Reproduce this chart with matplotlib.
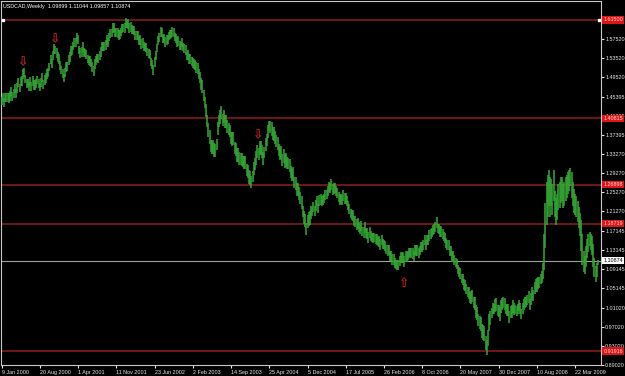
import numpy as np
import matplotlib
matplotlib.use("Agg")
import matplotlib.pyplot as plt

# ---------------- data ----------------
symbol = "USDCAD,Weekly"
last_open, last_high, last_low, last_close = 1.09899, 1.11044, 1.09857, 1.10874

# weekly highs / lows (price x 1000), 9 Jan 2000 onwards
highs_k = [
    1454,1462,1450,1462,1462,1461,1461,1466,1475,1464,
    1469,1480,1470,1482,1494,1481,1496,1498,1513,1514,
    1499,1492,1492,1485,1496,1484,1497,1488,1488,1492,
    1497,1492,1483,1494,1504,1489,1499,1503,1513,1514,
    1524,1542,1532,1550,1564,1561,1556,1548,1543,1529,
    1519,1512,1502,1515,1526,1526,1541,1548,1561,1561,
    1569,1577,1577,1588,1584,1561,1556,1558,1568,1557,
    1554,1552,1542,1540,1539,1534,1526,1518,1533,1539,
    1544,1544,1549,1558,1569,1568,1569,1573,1583,1577,
    1587,1597,1597,1608,1609,1598,1599,1598,1595,1594,
    1599,1607,1607,1608,1619,1616,1617,1608,1611,1604,
    1603,1602,1592,1592,1592,1581,1583,1576,1578,1569,
    1567,1567,1557,1555,1552,1536,1531,1520,1538,1549,
    1564,1582,1587,1600,1599,1584,1586,1580,1583,1584,
    1589,1594,1595,1600,1599,1588,1586,1580,1581,1571,
    1569,1577,1567,1565,1562,1548,1551,1543,1543,1537,
    1536,1534,1530,1527,1525,1513,1506,1493,1488,1468,
    1454,1439,1415,1398,1383,1363,1361,1363,1356,1355,
    1365,1401,1415,1425,1435,1417,1426,1416,1416,1405,
    1398,1395,1380,1379,1380,1358,1357,1346,1346,1338,
    1335,1335,1330,1329,1330,1313,1310,1299,1298,1288,
    1298,1317,1325,1339,1352,1346,1360,1361,1353,1338,
    1348,1367,1375,1394,1402,1403,1400,1391,1390,1381,
    1373,1369,1355,1349,1350,1333,1343,1333,1336,1328,
    1325,1322,1308,1304,1305,1286,1285,1273,1273,1263,
    1253,1245,1225,1214,1208,1188,1205,1211,1213,1223,
    1222,1233,1223,1236,1245,1229,1247,1249,1246,1248,
    1250,1258,1258,1266,1275,1272,1280,1271,1272,1272,
    1265,1261,1253,1249,1250,1247,1257,1251,1252,1245,
    1235,1228,1218,1216,1215,1202,1202,1197,1199,1190,
    1185,1193,1180,1179,1190,1177,1177,1169,1179,1172,
    1168,1168,1168,1166,1165,1159,1160,1154,1164,1155,
    1152,1151,1143,1141,1143,1129,1130,1124,1124,1115,
    1110,1111,1110,1119,1127,1125,1127,1119,1129,1128,
    1130,1135,1136,1136,1135,1129,1142,1141,1142,1135,
    1140,1148,1148,1153,1163,1152,1164,1164,1174,1175,
    1178,1185,1186,1191,1200,1187,1187,1181,1182,1175,
    1170,1168,1156,1153,1153,1139,1140,1129,1129,1120,
    1115,1113,1100,1096,1093,1082,1080,1071,1069,1060,
    1054,1054,1044,1045,1048,1033,1032,1016,1012,997,
    992,991,976,974,972,950,943,963,996,1004,
    1010,1021,1019,1028,1030,1016,1016,1011,1027,1030,
    1032,1031,1019,1018,1018,1003,1014,1016,1027,1020,
    1015,1013,1018,1026,1020,1007,1020,1029,1032,1032,
    1037,1046,1029,1041,1053,1048,1064,1071,1072,1074,
    1074,1082,1087,1105,1165,1230,1275,1290,1300,1285,
    1280,1270,1300,1255,1240,1250,1270,1275,1285,1285,
    1270,1275,1285,1290,1295,1300,1304,1295,1275,1260,
    1250,1245,1235,1222,1210,1195,1165,1130,1118,1140,
    1155,1165,1170,1165,1160,1145,1115,1098,1105,1110,
]
lows_k = [
    1437,1443,1432,1442,1442,1443,1441,1445,1454,1445,
    1452,1461,1452,1462,1474,1463,1476,1477,1492,1495,
    1482,1473,1474,1465,1476,1466,1477,1467,1467,1473,
    1480,1473,1465,1474,1484,1471,1479,1482,1492,1495,
    1507,1523,1514,1530,1544,1543,1536,1527,1522,1510,
    1502,1493,1484,1495,1506,1508,1521,1527,1540,1542,
    1552,1558,1559,1568,1564,1543,1536,1537,1547,1538,
    1537,1533,1524,1520,1519,1516,1506,1497,1512,1520,
    1527,1525,1531,1538,1549,1550,1549,1552,1562,1558,
    1570,1578,1579,1588,1589,1580,1579,1577,1574,1575,
    1582,1588,1589,1588,1599,1598,1597,1587,1590,1585,
    1586,1583,1574,1572,1572,1563,1563,1555,1557,1550,
    1550,1548,1539,1535,1532,1518,1511,1499,1517,1530,
    1547,1563,1569,1580,1579,1566,1566,1559,1562,1565,
    1572,1575,1577,1580,1579,1570,1566,1559,1560,1552,
    1552,1558,1549,1545,1542,1530,1531,1522,1522,1518,
    1515,1512,1509,1503,1501,1492,1482,1467,1462,1445,
    1430,1412,1390,1370,1355,1338,1333,1334,1327,1328,
    1341,1374,1390,1397,1407,1392,1398,1387,1387,1378,
    1374,1368,1355,1351,1352,1333,1329,1317,1317,1311,
    1311,1308,1305,1301,1302,1288,1282,1270,1269,1261,
    1274,1290,1300,1311,1324,1321,1332,1332,1324,1311,
    1324,1340,1350,1366,1382,1378,1372,1362,1361,1354,
    1349,1342,1330,1321,1322,1308,1315,1304,1307,1301,
    1301,1295,1283,1276,1277,1261,1257,1244,1244,1236,
    1229,1218,1200,1186,1180,1163,1177,1182,1184,1196,
    1203,1212,1203,1214,1223,1209,1225,1226,1223,1227,
    1231,1237,1238,1244,1253,1252,1258,1248,1249,1251,
    1246,1240,1233,1227,1228,1227,1235,1228,1229,1224,
    1216,1207,1198,1194,1193,1182,1180,1174,1176,1169,
    1166,1172,1160,1157,1168,1157,1155,1146,1156,1151,
    1149,1147,1148,1144,1143,1139,1138,1131,1141,1134,
    1133,1130,1123,1119,1121,1109,1108,1101,1101,1094,
    1091,1090,1090,1097,1105,1105,1105,1096,1106,1107,
    1111,1114,1116,1114,1113,1109,1120,1118,1119,1114,
    1121,1127,1128,1131,1141,1132,1142,1141,1151,1154,
    1159,1164,1166,1169,1178,1167,1165,1158,1159,1154,
    1151,1147,1136,1131,1131,1119,1118,1106,1106,1099,
    1096,1092,1080,1074,1071,1062,1058,1048,1046,1039,
    1032,1029,1021,1019,1022,1009,1006,988,984,972,
    965,961,947,942,940,921,911,929,961,974,
    988,996,996,1002,1004,992,990,983,999,1005,
    1010,1006,996,992,992,979,988,988,999,995,
    996,992,998,1004,998,987,998,1006,1009,1011,
    1015,1021,1006,1015,1027,1024,1038,1043,1044,1049,
    1052,1059,1063,1070,1090,1135,1185,1200,1225,1200,
    1225,1205,1235,1200,1185,1195,1215,1220,1230,1235,
    1220,1225,1235,1240,1250,1255,1265,1240,1225,1210,
    1205,1200,1190,1178,1160,1130,1100,1085,1082,1095,
    1115,1128,1140,1132,1120,1095,1075,1064,1075,1099,
]

date_labels = ["9 Jan 2000", "20 Aug 2000", "1 Apr 2001", "11 Nov 2001",
               "23 Jun 2002", "2 Feb 2003", "14 Sep 2003", "25 Apr 2004",
               "5 Dec 2004", "17 Jul 2005", "26 Feb 2006", "8 Oct 2006",
               "20 May 2007", "30 Dec 2007", "10 Aug 2008", "22 Mar 2009"]
weeks_per_label = 32

price_ticks = [1.57520, 1.53520, 1.49520, 1.45395, 1.41395, 1.37395, 1.33270,
               1.29270, 1.25270, 1.21270, 1.17145, 1.13145, 1.09145, 1.05145,
               1.01020, 0.97020, 0.93020, 0.89020]
price_tick_labels = ["1.57520", "1.53520", "1.49520", "1.45395", "1.41395",
                     "1.37395", "1.33270", "1.29270", "1.25270", "1.21270",
                     "1.17145", "1.13145", "1.09145", "1.05145", "1.01020",
                     "0.97020", "0.93020", "0.89020"]

levels = [1.61500, 1.40815, 1.26898, 1.18719, 0.91916]
level_labels = ["1.61500", "1.40815", "1.26898", "1.18719", "0.91916"]

arrow_weeks = [17, 44, 214, 336]
arrow_prices = [1.525, 1.573, 1.371, 1.062]
arrow_dirs = ["down", "down", "down", "up"]

# ---------------- drawing ----------------
FONT = ["Liberation Sans", "DejaVu Sans"]
FS = 3.9

highs = np.array(highs_k) / 1000.0
lows = np.array(lows_k) / 1000.0
weeks = np.arange(len(highs))

fig = plt.figure(figsize=(6.25, 3.76), dpi=100, facecolor="black")
ax = fig.add_axes([1 / 625, 11 / 376, 600 / 625, 364 / 376])
ax.set_facecolor("black")

ax.vlines(weeks, lows, highs, color="#33a533", lw=1.15, zorder=3)

for lv in levels:
    ax.axhline(lv, color="#8e1d1d", lw=1.1, zorder=2)
ax.axhline(last_close, color="#a0a0a0", lw=0.8, zorder=2)

# selection squares on the top level line
ax.plot([0.004, 0.997], [levels[0], levels[0]], transform=ax.get_yaxis_transform(),
        ls="none", marker="s", ms=1.8, color="white", zorder=4, clip_on=False)

for w, p, d in zip(arrow_weeks, arrow_prices, arrow_dirs):
    ax.text(w, p, "\u21e9" if d == "down" else "\u21e7", color="#c42222",
            fontsize=9, fontweight="bold", ha="center", va="center",
            family="DejaVu Sans", zorder=5)

ax.set_xlim(-0.5, 501.6)
ax.set_ylim(0.88975, 1.65494)

ax.yaxis.tick_right()
ax.set_yticks(price_ticks)
ax.set_yticklabels(price_tick_labels)
xt = np.arange(len(date_labels)) * weeks_per_label
ax.set_xticks(xt)
ax.set_xticklabels(date_labels)
for lab in ax.get_xticklabels():
    lab.set_horizontalalignment("left")
    lab.set_family(FONT)
for lab in ax.get_yticklabels():
    lab.set_family(FONT)

ax.tick_params(axis="y", colors="#e6e6e6", labelsize=FS, length=2, width=0.8,
               pad=1.0, direction="out")
ax.tick_params(axis="x", colors="#e6e6e6", labelsize=FS, length=2.5, width=0.8,
               pad=1.0, direction="out")
for s in ax.spines.values():
    s.set_color("#c8c8c8")
    s.set_linewidth(0.8)

ytr = ax.get_yaxis_transform()
for lv, lab in zip(levels, level_labels):
    ax.text(1.0 + 2.5 / 600, lv, lab, transform=ytr, ha="left", va="center",
            fontsize=FS, family=FONT, color="#ffe0e0", zorder=6, clip_on=False,
            bbox=dict(boxstyle="square,pad=0.2", fc="#e01414", ec="none"))
ax.text(1.0 + 2.5 / 600, last_close, f"{last_close:.5f}", transform=ytr,
        ha="left", va="center", fontsize=FS, family=FONT, color="black",
        zorder=6, clip_on=False,
        bbox=dict(boxstyle="square,pad=0.2", fc="white", ec="none"))

title = f"{symbol}  {last_open:.5f} {last_high:.5f} {last_low:.5f} {last_close:.5f}"
fig.text(3 / 625, 1 - 6.5 / 376, title, ha="left", va="center", fontsize=FS,
         family=FONT, color="white")

fig.savefig("out.png", dpi=100, facecolor="black")
